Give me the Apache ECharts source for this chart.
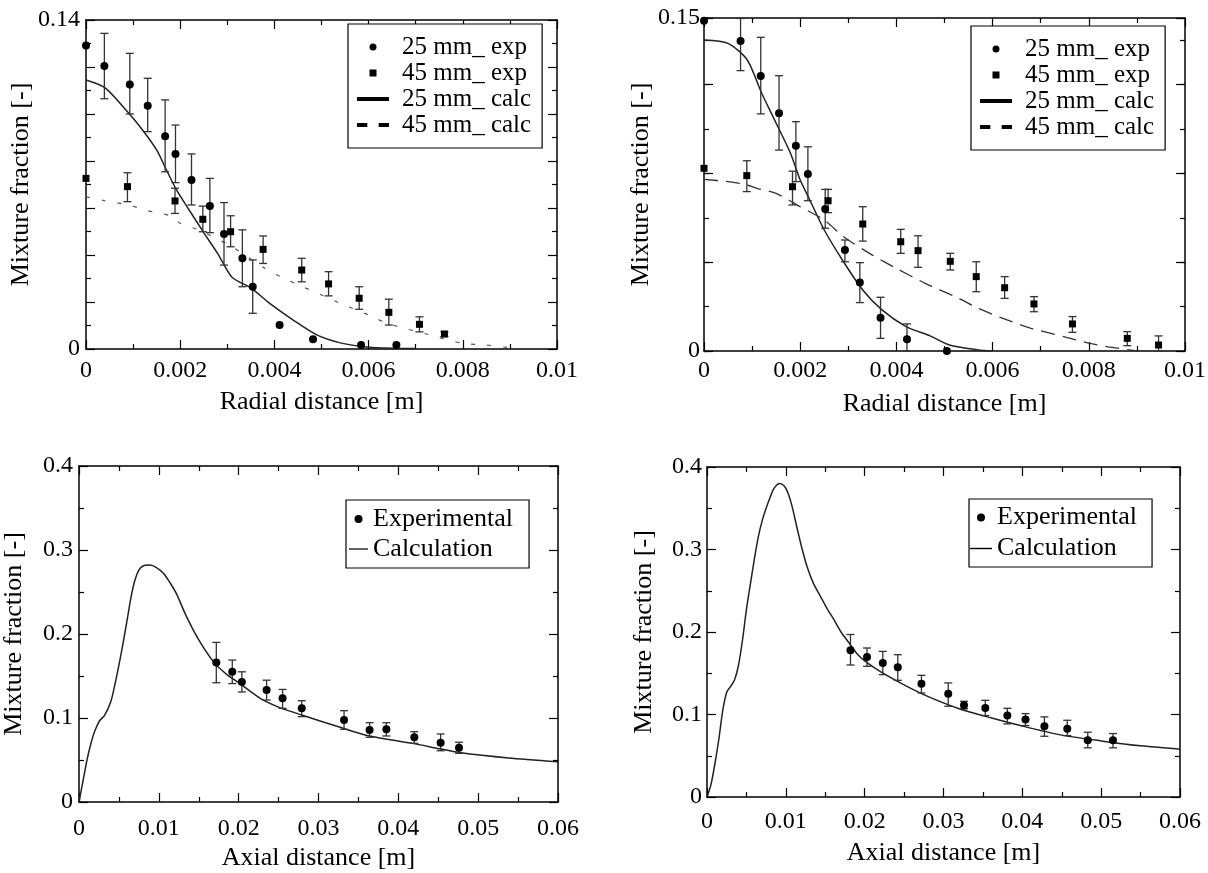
<!DOCTYPE html>
<html><head><meta charset="utf-8">
<script src="https://cdn.jsdelivr.net/npm/echarts@6.0.0/dist/echarts.min.js"></script>
<style>html,body{margin:0;padding:0;background:#fff}#c{width:1208px;height:873px}</style>
</head><body><div id="c"></div>
<script>
// ---------- Top-left panel (radial profiles) ----------
const tlExp25X = [0, 0.00039, 0.00093, 0.00131, 0.00168, 0.0019, 0.00224, 0.00263, 0.00293, 0.00332, 0.00354, 0.00411, 0.00482, 0.00584, 0.00659];
const tlExp25Y = [0.1291, 0.1204, 0.1126, 0.1035, 0.0905, 0.083, 0.0719, 0.0609, 0.0489, 0.0386, 0.0265, 0.0102, 0.0041, 0.0017, 0.0017];
const tlExp25Lo = [null, 0.1065, 0.1, 0.0925, 0.0754, 0.0708, 0.0613, 0.0495, 0.0357, 0.0265, 0.0152, null, null, null, null];
const tlExp25Hi = [null, 0.1343, 0.1258, 0.1152, 0.106, 0.0953, 0.083, 0.0726, 0.0623, 0.0507, 0.0379, null, null, null, null];
const tlExp45X = [0, 0.00088, 0.00189, 0.00248, 0.00307, 0.00376, 0.00458, 0.00515, 0.0058, 0.00643, 0.00708, 0.00761];
const tlExp45Y = [0.0726, 0.0691, 0.063, 0.0552, 0.0499, 0.0424, 0.0336, 0.0277, 0.0216, 0.0156, 0.0105, 0.0064];
const tlExp45Lo = [null, 0.0627, 0.0577, 0.0499, 0.0435, 0.0364, 0.0286, 0.0226, 0.0169, 0.0102, 0.0073, 0.0053];
const tlExp45Hi = [null, 0.075, 0.0684, 0.0608, 0.0567, 0.0481, 0.0386, 0.0329, 0.0265, 0.0212, 0.0137, 0.0073];
const tlCalc25X = [0, 0.0004, 0.0009, 0.0012, 0.0015, 0.0017, 0.0019, 0.0021, 0.0025, 0.0028, 0.0031, 0.0035, 0.0039, 0.0044, 0.0049, 0.0054, 0.0059, 0.0065, 0.007];
const tlCalc25Y = [0.1145, 0.1112, 0.1005, 0.0932, 0.0847, 0.0765, 0.0685, 0.062, 0.0495, 0.0405, 0.0305, 0.026, 0.0194, 0.0123, 0.006, 0.0026, 0.001, 0.0003, 0.0002];
const tlCalc45X = [0, 0.0004, 0.0009, 0.0013, 0.0018, 0.002, 0.0024, 0.0031, 0.0038, 0.0042, 0.0046, 0.005, 0.0054, 0.006, 0.0064, 0.0073, 0.008, 0.0085, 0.009];
const tlCalc45Y = [0.0647, 0.0631, 0.0613, 0.0589, 0.0566, 0.0535, 0.0506, 0.0435, 0.0343, 0.0301, 0.0265, 0.023, 0.0194, 0.0145, 0.0109, 0.006, 0.0024, 0.0017, 0.0005];

// ---------- Top-right panel ----------
const trExp25X = [0, 0.00076, 0.00118, 0.00156, 0.00191, 0.00216, 0.00252, 0.00293, 0.00324, 0.00367, 0.00422, 0.00505];
const trExp25Y = [0.1488, 0.1396, 0.1239, 0.1071, 0.0925, 0.0797, 0.064, 0.0455, 0.0308, 0.015, 0.0053, 0.0];
const trExp25Lo = [null, 0.1263, 0.1068, 0.0905, 0.0763, 0.0677, 0.0553, 0.0402, 0.0218, 0.0057, 0.0, null];
const trExp25Hi = [null, 0.1498, 0.1413, 0.124, 0.1033, 0.092, 0.0728, 0.05, 0.0398, 0.0242, 0.0122, null];
const trExp45X = [0, 0.00089, 0.00184, 0.00258, 0.0033, 0.00409, 0.00445, 0.00512, 0.00566, 0.00625, 0.00686, 0.00766, 0.0088, 0.00945];
const trExp45Y = [0.0823, 0.079, 0.074, 0.0677, 0.0572, 0.0492, 0.0452, 0.0404, 0.0335, 0.0285, 0.0212, 0.0122, 0.0057, 0.0027];
const trExp45Lo = [null, 0.0718, 0.0658, 0.0623, 0.0495, 0.044, 0.0377, 0.0365, 0.0267, 0.0237, 0.0177, 0.0084, 0.0024, 0.0];
const trExp45Hi = [null, 0.0857, 0.081, 0.0728, 0.065, 0.0548, 0.0519, 0.044, 0.0402, 0.0335, 0.0245, 0.0155, 0.0087, 0.0068];
const trCalc25X = [0, 0.0005, 0.0009, 0.0012, 0.0015, 0.0018, 0.002, 0.0022, 0.0025, 0.0029, 0.0033, 0.0037, 0.0042, 0.0047, 0.0051, 0.0057, 0.006];
const trCalc25Y = [0.1401, 0.1386, 0.1311, 0.1161, 0.1026, 0.089, 0.077, 0.068, 0.0545, 0.0402, 0.0275, 0.0185, 0.011, 0.0068, 0.0027, 0.0005, 0];
const trCalc45X = [0, 0.0005, 0.0009, 0.0011, 0.0015, 0.002, 0.0025, 0.0029, 0.0035, 0.004, 0.0046, 0.0053, 0.0057, 0.0063, 0.0068, 0.0075, 0.008, 0.0084, 0.009];
const trCalc45Y = [0.0773, 0.0763, 0.0748, 0.0733, 0.071, 0.065, 0.059, 0.0515, 0.0432, 0.0372, 0.0305, 0.0237, 0.0192, 0.014, 0.0102, 0.0064, 0.0035, 0.0019, 0];

// ---------- Bottom-left panel (axial profile) ----------
const blExpX = [0.0172, 0.0192, 0.0204, 0.0235, 0.0255, 0.0279, 0.0332, 0.0364, 0.0385, 0.042, 0.0453, 0.0476];
const blExpY = [0.166, 0.155, 0.143, 0.1333, 0.1234, 0.1115, 0.0976, 0.0857, 0.0865, 0.077, 0.0706, 0.0647];
const blExpLo = [0.142, 0.141, 0.131, 0.1214, 0.1115, 0.1016, 0.0865, 0.077, 0.0786, 0.0698, 0.061, 0.0579];
const blExpHi = [0.19, 0.169, 0.155, 0.145, 0.134, 0.1206, 0.1087, 0.0944, 0.0944, 0.0837, 0.081, 0.0711];
const blCalcX = [0, 0.0005, 0.001, 0.0015, 0.002, 0.0026, 0.0032, 0.004, 0.0045, 0.005, 0.0055, 0.006, 0.0065, 0.007, 0.0075, 0.008, 0.0089, 0.0097, 0.0106, 0.0114, 0.0122, 0.0135, 0.015, 0.017, 0.0185, 0.02, 0.0227, 0.025, 0.0279, 0.0331, 0.0364, 0.0418, 0.0451, 0.0476, 0.0538, 0.06];
const blCalcY = [0, 0.025, 0.05, 0.07, 0.085, 0.097, 0.103, 0.12, 0.14, 0.163, 0.188, 0.215, 0.243, 0.264, 0.276, 0.281, 0.282, 0.279, 0.272, 0.261, 0.248, 0.22, 0.193, 0.165, 0.152, 0.142, 0.1234, 0.113, 0.1036, 0.0877, 0.0786, 0.0698, 0.0635, 0.059, 0.0525, 0.048];

// ---------- Bottom-right panel ----------
const brExpX = [0.0182, 0.0203, 0.0223, 0.0242, 0.0272, 0.0306, 0.0326, 0.0353, 0.0381, 0.0404, 0.0428, 0.0457, 0.0483, 0.0515];
const brExpY = [0.178, 0.1697, 0.1625, 0.1572, 0.1374, 0.1253, 0.1111, 0.108, 0.0987, 0.0938, 0.0857, 0.0826, 0.0688, 0.0688];
const brExpLo = [0.16, 0.1584, 0.1483, 0.1414, 0.1261, 0.11, 0.1068, 0.0987, 0.0886, 0.0866, 0.0736, 0.0745, 0.0596, 0.0596];
const brExpHi = [0.197, 0.1806, 0.1765, 0.1725, 0.1475, 0.1383, 0.116, 0.1172, 0.1075, 0.1011, 0.0971, 0.093, 0.0785, 0.0769];
const brCalcX = [0, 0.0005, 0.001, 0.0015, 0.002, 0.0025, 0.003, 0.0035, 0.004, 0.0045, 0.005, 0.0055, 0.006, 0.0065, 0.007, 0.0075, 0.008, 0.0085, 0.0092, 0.0098, 0.0103, 0.0108, 0.0114, 0.012, 0.0127, 0.0135, 0.0144, 0.0152, 0.0161, 0.017, 0.018, 0.019, 0.02, 0.022, 0.025, 0.028, 0.032, 0.036, 0.04, 0.045, 0.05, 0.055, 0.06];
const brCalcY = [0, 0.015, 0.04, 0.07, 0.105, 0.127, 0.134, 0.142, 0.16, 0.19, 0.227, 0.258, 0.288, 0.315, 0.335, 0.35, 0.363, 0.374, 0.38, 0.377, 0.368, 0.352, 0.327, 0.303, 0.279, 0.259, 0.243, 0.229, 0.215, 0.2, 0.187, 0.174, 0.165, 0.152, 0.136, 0.122, 0.107, 0.096, 0.086, 0.075, 0.068, 0.062, 0.058];

// ---------- labels ----------
const radialTitle = 'Radial distance [m]';
const axialTitle = 'Axial distance [m]';
const mixTitle = 'Mixture fraction [-]';
const nameE25 = '25 mm_ exp', nameE45 = '45 mm_ exp', nameC25 = '25 mm_ calc', nameC45 = '45 mm_ calc';
const nameExp = 'Experimental', nameCalc = 'Calculation';

const FONT = 'Liberation Serif';
const pts = (xs, ys) => xs.map((x, i) => [x, ys[i]]);
const errs = (xs, lo, hi) => xs.map((x, i) => [x, lo[i], hi[i]]).filter(d => d[1] != null && d[2] != null);

function errRender(params, api) {
  const x = api.value(0), lo = api.value(1), hi = api.value(2);
  const a = api.coord([x, hi]), b = api.coord([x, lo]);
  const w = 4, st = { stroke: '#333', lineWidth: 1.3 };
  return { type: 'group', children: [
    { type: 'line', shape: { x1: a[0], y1: a[1], x2: b[0], y2: b[1] }, style: st },
    { type: 'line', shape: { x1: a[0] - w, y1: a[1], x2: a[0] + w, y2: a[1] }, style: st },
    { type: 'line', shape: { x1: b[0] - w, y1: b[1], x2: b[0] + w, y2: b[1] }, style: st }
  ]};
}

const grids = [
  { left: 86, top: 20, width: 471, height: 329, outerBoundsMode: 'none' },
  { left: 704, top: 18, width: 481, height: 333, outerBoundsMode: 'none' },
  { left: 79, top: 466, width: 479, height: 336, outerBoundsMode: 'none' },
  { left: 707, top: 467, width: 473, height: 330, outerBoundsMode: 'none' }
];

const lineSt = { show: true, onZero: false, lineStyle: { color: '#000', width: 1.5 } };
const noLine = { show: false, onZero: false };
const tickSt = (len) => ({ show: true, inside: true, length: len, lineStyle: { color: '#000', width: 1.2 } });
const minorSt = (show) => ({ show: show, splitNumber: 2, length: 5, lineStyle: { color: '#000', width: 1.2 } });
const lblSt = (margin, fmt) => ({ show: true, fontFamily: FONT, fontSize: 24, lineHeight: 24, color: '#000', margin: margin, formatter: fmt, showMinLabel: true, showMaxLabel: true });
const nameSt = { fontFamily: FONT, fontSize: 26, lineHeight: 26, color: '#000' };

function xPair(g, max, interval, name, nameGap, margin) {
  return [
    { type: 'value', gridIndex: g, position: 'bottom', min: 0, max: max, interval: interval,
      axisLine: lineSt, axisTick: tickSt(9), minorTick: minorSt(true), splitLine: { show: false },
      axisLabel: lblSt(margin), name: name, nameLocation: 'middle', nameGap: nameGap, nameTextStyle: nameSt },
    { type: 'value', gridIndex: g, position: 'top', min: 0, max: max, interval: interval,
      axisLine: lineSt, axisTick: tickSt(9), minorTick: minorSt(true), splitLine: { show: false },
      axisLabel: { show: false } }
  ];
}
function yPair(g, max, interval, nameGap, margin, fmt, minor) {
  return [
    { type: 'value', gridIndex: g, position: 'left', min: 0, max: max, interval: interval,
      axisLine: lineSt, axisTick: tickSt(9), minorTick: minorSt(minor), splitLine: { show: false },
      axisLabel: lblSt(margin, fmt), name: mixTitle, nameLocation: 'middle', nameRotate: 90, nameGap: nameGap,
      nameTextStyle: nameSt },
    { type: 'value', gridIndex: g, position: 'right', min: 0, max: max, interval: interval,
      axisLine: lineSt, axisTick: tickSt(9), minorTick: minorSt(minor), splitLine: { show: false },
      axisLabel: { show: false } }
  ];
}
const near = (a, b) => Math.abs(a - b) < 1e-9;
const fmtTL = v => near(v, 0) ? '0' : (near(v, 0.14) ? '0.14' : '');
const fmtTR = v => near(v, 0) ? '0' : (near(v, 0.15) ? '0.15' : '');

const xAxes = [].concat(
  xPair(0, 0.01, 0.002, radialTitle, 40, 10),
  xPair(1, 0.01, 0.002, radialTitle, 40, 8),
  xPair(2, 0.06, 0.01, axialTitle, 43, 15),
  xPair(3, 0.06, 0.01, axialTitle, 43, 13)
);
const yAxes = [].concat(
  yPair(0, 0.14, 0.02, 50, 6, fmtTL, true),
  yPair(1, 0.15, 0.04, 41, 4, fmtTR, false),
  yPair(2, 0.4, 0.1, 52, 6, undefined, true),
  yPair(3, 0.4, 0.1, 50, 5, undefined, true),
  // short ticks every 0.02 for the top-right panel
  [
    { type: 'value', gridIndex: 1, position: 'left', min: 0, max: 0.15, interval: 0.02,
      axisLine: noLine, axisTick: tickSt(5), splitLine: { show: false }, axisLabel: { show: false } },
    { type: 'value', gridIndex: 1, position: 'right', min: 0, max: 0.15, interval: 0.02,
      axisLine: noLine, axisTick: tickSt(5), splitLine: { show: false }, axisLabel: { show: false } }
  ]
);

function panelSeries(g, spec) {
  const s = [];
  const xi = 2 * g, yi = 2 * g;
  spec.lines.forEach(l => s.push({ type: 'line', name: l.name, xAxisIndex: xi, yAxisIndex: yi, data: l.data,
    symbol: 'none', showSymbol: false, smooth: 0.25, z: 2, color: '#000',
    lineStyle: { color: l.color, width: l.width, type: l.type } }));
  spec.errs.forEach((e, k) => s.push({ type: 'custom', name: 'err' + g + '_' + k, xAxisIndex: xi, yAxisIndex: yi,
    data: e, renderItem: errRender, encode: { x: 0, y: [1, 2] }, z: 3 }));
  spec.scatters.forEach(p => s.push({ type: 'scatter', name: p.name, xAxisIndex: xi, yAxisIndex: yi, data: p.data,
    symbol: p.symbol, symbolSize: p.size, itemStyle: { color: '#000', opacity: 1 }, z: 4 }));
  return s;
}

const series = [].concat(
  panelSeries(0, {
    lines: [
      { name: nameC25, data: pts(tlCalc25X, tlCalc25Y), color: '#222', width: 1.5, type: 'solid' },
      { name: nameC45, data: pts(tlCalc45X, tlCalc45Y), color: '#555', width: 1.2, type: [4, 12] }
    ],
    errs: [errs(tlExp25X, tlExp25Lo, tlExp25Hi), errs(tlExp45X, tlExp45Lo, tlExp45Hi)],
    scatters: [
      { name: nameE25, data: pts(tlExp25X, tlExp25Y), symbol: 'circle', size: 8 },
      { name: nameE45, data: pts(tlExp45X, tlExp45Y), symbol: 'rect', size: 7 }
    ]
  }),
  panelSeries(1, {
    lines: [
      { name: nameC25, data: pts(trCalc25X, trCalc25Y), color: '#222', width: 1.5, type: 'solid' },
      { name: nameC45, data: pts(trCalc45X, trCalc45Y), color: '#333', width: 1.3, type: [14, 8] }
    ],
    errs: [errs(trExp25X, trExp25Lo, trExp25Hi), errs(trExp45X, trExp45Lo, trExp45Hi)],
    scatters: [
      { name: nameE25, data: pts(trExp25X, trExp25Y), symbol: 'circle', size: 8 },
      { name: nameE45, data: pts(trExp45X, trExp45Y), symbol: 'rect', size: 7 }
    ]
  }),
  panelSeries(2, {
    lines: [{ name: nameCalc, data: pts(blCalcX, blCalcY), color: '#222', width: 1.5, type: 'solid' }],
    errs: [errs(blExpX, blExpLo, blExpHi)],
    scatters: [{ name: nameExp, data: pts(blExpX, blExpY), symbol: 'circle', size: 8 }]
  }),
  panelSeries(3, {
    lines: [{ name: nameCalc, data: pts(brCalcX, brCalcY), color: '#222', width: 1.5, type: 'solid' }],
    errs: [errs(brExpX, brExpLo, brExpHi)],
    scatters: [{ name: nameExp, data: pts(brExpX, brExpY), symbol: 'circle', size: 8 }]
  })
);

const iconSt = { color: '#000', borderWidth: 0, opacity: 1 };
function topLegend(left, top) {
  return {
    orient: 'vertical', left: left, top: top, padding: [10, 11, 10, 9], itemGap: 0,
    itemWidth: 32, itemHeight: 7, borderColor: '#000', borderWidth: 1.2, selectedMode: false,
    symbolKeepAspect: true, backgroundColor: '#fff',
    textStyle: { fontFamily: FONT, fontSize: 25, lineHeight: 26, color: '#000', padding: [0, 0, 0, 8] },
    data: [
      { name: nameE25, icon: 'circle', itemStyle: iconSt },
      { name: nameE45, icon: 'path://M0,0H7V7H0Z', itemStyle: iconSt },
      { name: nameC25, icon: 'path://M0,0H32V4H0Z', itemStyle: iconSt },
      { name: nameC45, icon: 'path://M0,0H10V4H0Z M21,0H31V4H21Z', itemStyle: iconSt }
    ]
  };
}
function botLegend(left, top, pad, iw, lh) {
  return {
    orient: 'vertical', left: left, top: top, padding: pad, itemGap: 0,
    itemWidth: iw, itemHeight: 8, borderColor: '#000', borderWidth: 1.2, selectedMode: false,
    symbolKeepAspect: true, backgroundColor: '#fff',
    textStyle: { fontFamily: FONT, fontSize: 26, lineHeight: lh, color: '#000' },
    data: [
      { name: nameExp, icon: 'circle', itemStyle: iconSt },
      { name: nameCalc, icon: 'path://M0,0H20V1.3H0Z', itemStyle: iconSt }
    ]
  };
}

const chart = echarts.init(document.getElementById('c'), null, { renderer: 'canvas' });
chart.setOption({
  animation: false,
  backgroundColor: '#fff',
  textStyle: { fontFamily: FONT },
  grid: grids,
  xAxis: xAxes,
  yAxis: yAxes,
  legend: [
    topLegend(348, 24),
    topLegend(971, 26),
    botLegend(346, 500, [4, 16, 4, 3], 19, 30),
    botLegend(969, 499, [3, 15, 3, 1], 22, 31)
  ],
  series: series
});
</script>
</body></html>
